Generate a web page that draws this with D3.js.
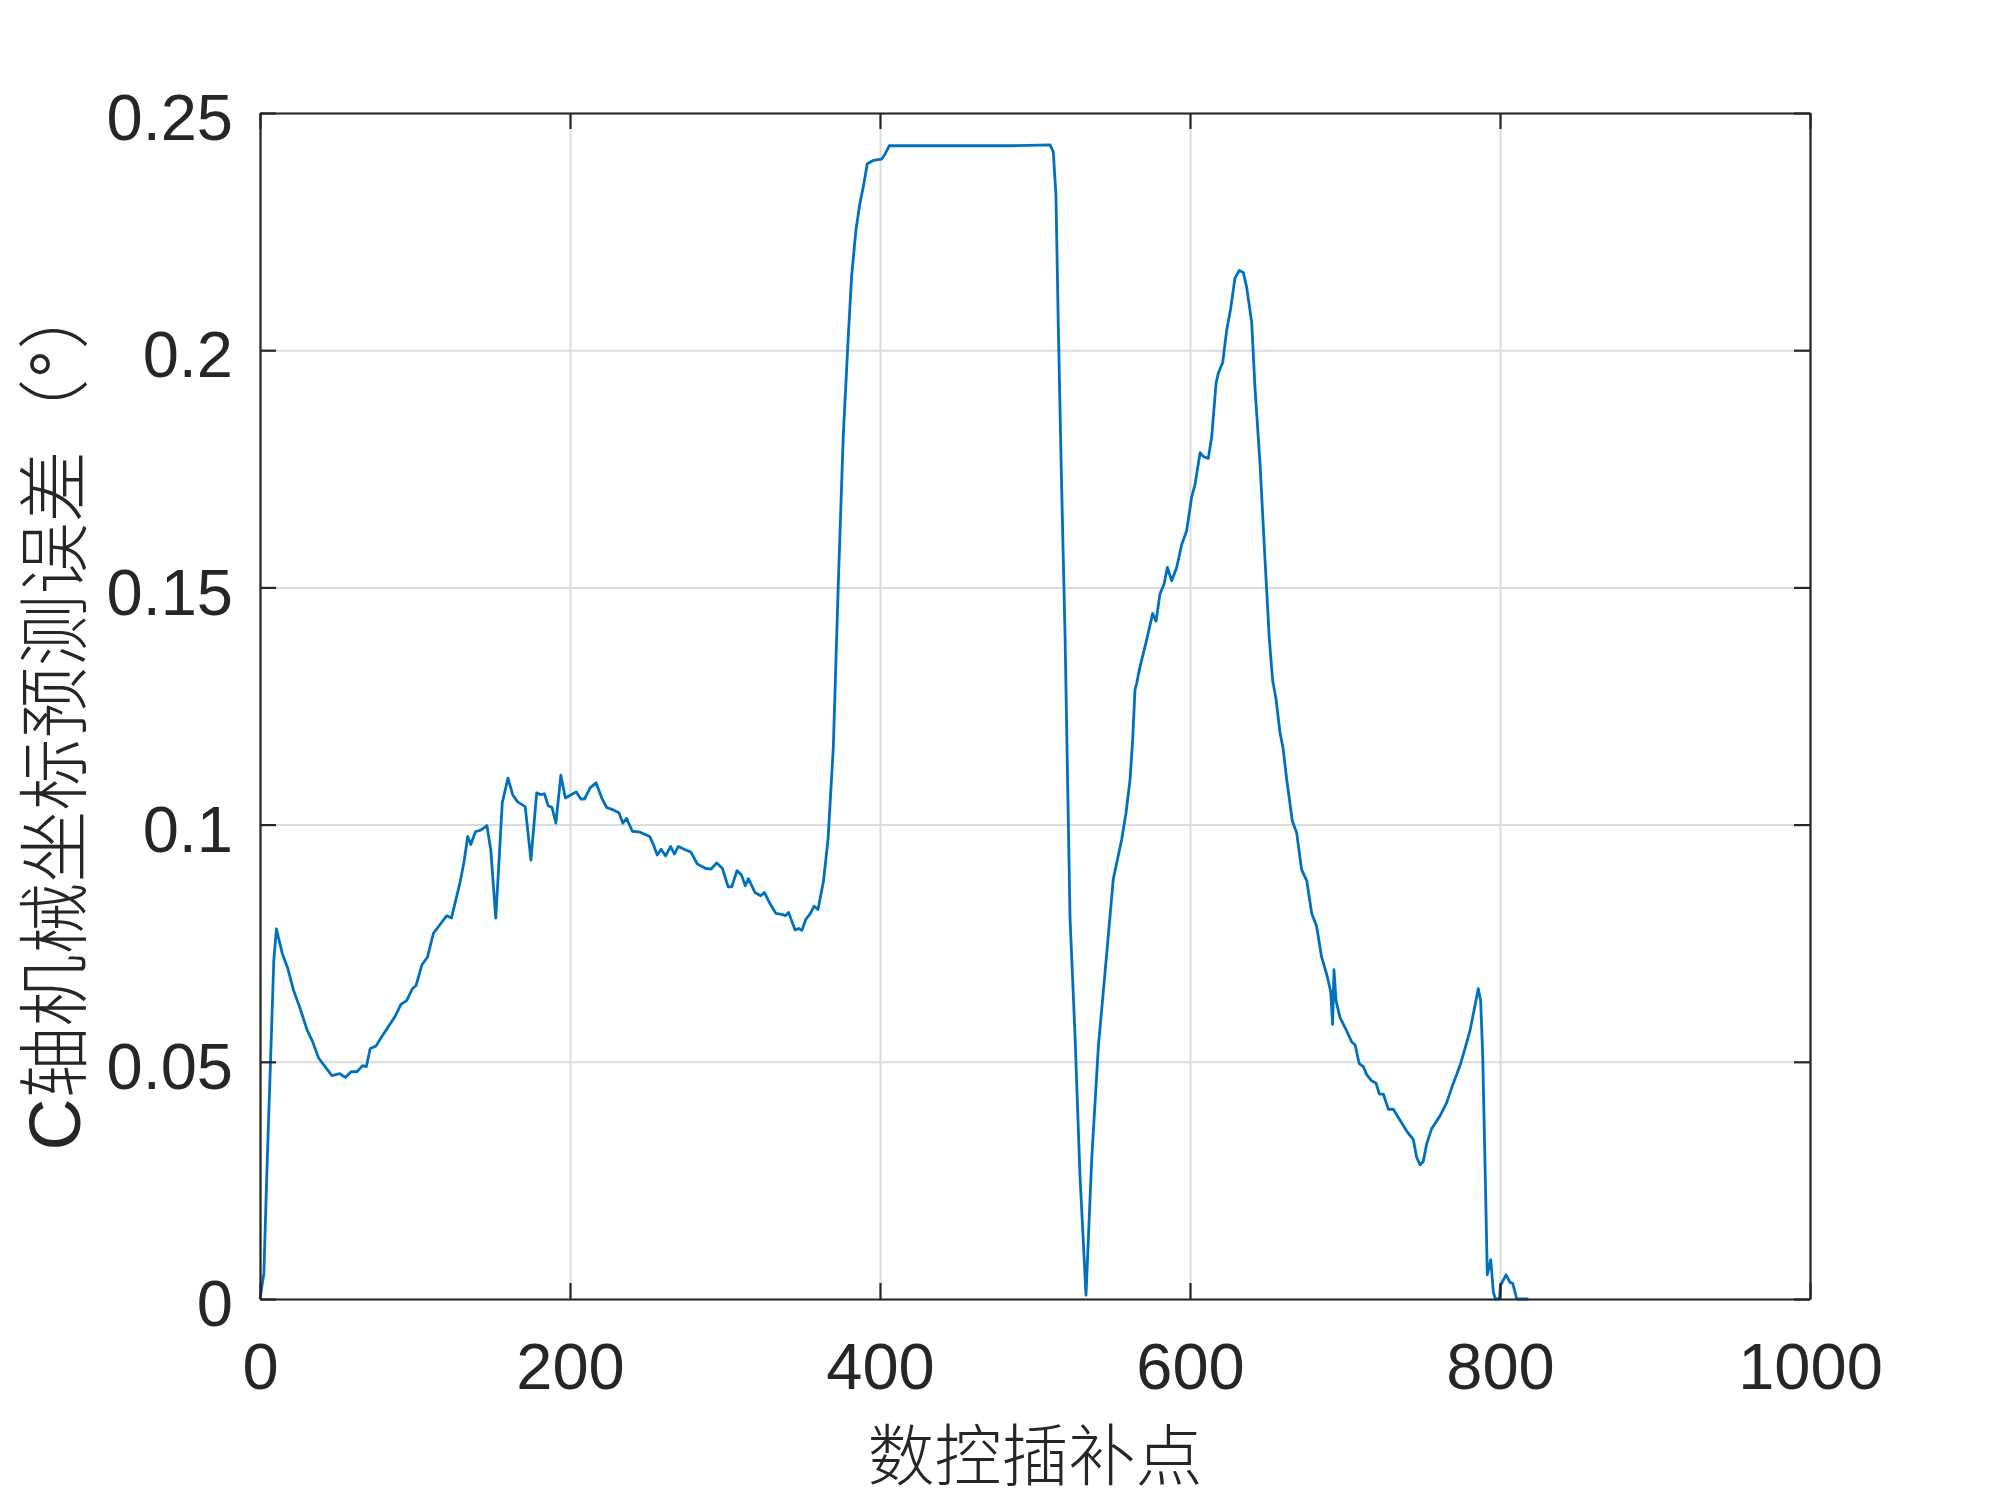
<!DOCTYPE html>
<html lang="zh">
<head>
    <meta charset="UTF-8">
    <title>C轴机械坐标预测误差</title>
    <style>
        body { margin: 0; background: #fff; }
    </style>
</head>
<body>
    <div id="chart"></div>
    <script src="https://d3js.org/d3.v7.min.js"></script>
    <script>
        // 数控插补点 (x) and predicted error (y)
        const pointIdx = [
            0, 2.5, 4.4, 6.9, 8.9, 10.6, 14.3, 18, 21.7, 25.4, 30.4, 34, 37.8, 41.5, 46.4, 51.4, 55, 58.8, 62.5, 66.2,
            68.6, 71.1, 74.8, 78.5, 82.2, 87.2, 90.9, 94.6, 98.3, 100.7, 104.4, 108.1, 111.9, 116.8, 120.5, 123.5, 126.7, 129.1, 131.6, 134,
            136, 139, 142.7, 146.4, 148.9, 152.1, 154.6, 156.3, 160, 163, 166.2, 171.1, 174.8, 178.5, 181, 183.5, 185.9, 188.4, 190.9, 194.1,
            197, 200.7, 204, 207, 209.4, 213.1, 216.8, 220.5, 223.7, 227.9, 231.6, 234.1, 236.5, 240.2, 245.2, 251.4, 253.8, 256.3, 258.8, 261.7,
            264.9, 267.4, 269.9, 273.6, 278, 282.2, 287.2, 290.9, 294.6, 298.3, 302, 304.4, 307.7, 310.6, 313.1, 315.1, 319.3, 323, 325.4, 329.1,
            332.8, 336.5, 339, 341, 345.2, 347.7, 349.6, 352.1, 355.1, 357.5, 360, 363.5, 366.5, 369.9, 373.1, 376.3, 379.6, 381.7, 384.5, 387.1,
            389.2, 391.8, 395.7, 401.1, 403.2, 406, 443, 486, 509.7, 511.8, 513.5, 515.1, 517.2, 519.4, 522.6, 525.8, 529, 532.9, 536.6, 540.9,
            545.2, 550.5, 555.9, 558.7, 561.3, 563, 564.5, 565.6, 567.7, 572, 575.9, 578.1, 580.6, 583.2, 585.4, 588.2, 591.4, 594.6, 597.8, 601.1,
            603.2, 606.5, 608.6, 611.8, 614, 616.8, 618.3, 621.1, 623.7, 626.2, 629, 631.8, 634.4, 636.6, 639.8, 641.9, 645.2, 648.4, 651.2, 653.3,
            655.5, 658.1, 660, 662.4, 666, 668.8, 672, 675.3, 678.5, 681.7, 684.9, 688.2, 690.8, 692, 692.9, 694.2, 696.8, 701.1, 704.3, 706.5,
            709.2, 711.8, 714, 717.2, 720, 722.2, 724.7, 728, 731.2, 735.5, 739.8, 744.1, 746.2, 748.4, 750.5, 752.7, 755.9, 761.3, 765.6, 769.9,
            774.2, 777.4, 780.6, 783.4, 786, 787.5, 788.8, 790.3, 791.8, 794, 795.7, 797, 799.6, 800.4, 803.9, 806.5, 808.2, 810.8, 818.3
        ]
        const cErr = [
            0, 0.0054, 0.0263, 0.0513, 0.0713, 0.078, 0.0729, 0.0696, 0.065, 0.0617, 0.0567, 0.0542, 0.0508, 0.0492, 0.0471, 0.0475, 0.0467, 0.0479, 0.0479, 0.0492,
            0.049, 0.0528, 0.0533, 0.0553, 0.0571, 0.0596, 0.0621, 0.0629, 0.0654, 0.0661, 0.0704, 0.0721, 0.0771, 0.0792, 0.0808, 0.0803, 0.0846, 0.0879, 0.0921, 0.0975,
            0.0958, 0.0985, 0.0989, 0.0998, 0.0946, 0.0803, 0.0946, 0.1046, 0.1098, 0.1063, 0.1048, 0.1038, 0.0925, 0.1067, 0.1063, 0.1065, 0.104, 0.1036, 0.1003, 0.1104,
            0.1056, 0.1063, 0.1069, 0.1054, 0.1054, 0.1078, 0.1088, 0.1056, 0.1036, 0.1031, 0.1025, 0.1003, 0.1013, 0.0986, 0.0984, 0.0975, 0.0958, 0.0936, 0.0948, 0.0934,
            0.0954, 0.0938, 0.0954, 0.0948, 0.0942, 0.0917, 0.0908, 0.0906, 0.0919, 0.0908, 0.0869, 0.0869, 0.0903, 0.0894, 0.0871, 0.0886, 0.0857, 0.085, 0.0857, 0.0833,
            0.0813, 0.0811, 0.0808, 0.0815, 0.0778, 0.0781, 0.0777, 0.08, 0.0813, 0.0828, 0.0821, 0.088, 0.097, 0.1164, 0.1508, 0.182, 0.2033, 0.2156, 0.2254, 0.2311,
            0.2344, 0.2393, 0.24, 0.2403, 0.2413, 0.2431, 0.2431, 0.2431, 0.2433, 0.2418, 0.2328, 0.204, 0.171, 0.1397, 0.0803, 0.0557, 0.0262, 0.0008, 0.0295, 0.0533,
            0.0689, 0.0885, 0.0968, 0.1024, 0.1094, 0.1178, 0.1284, 0.1298, 0.1332, 0.1389, 0.1445, 0.1429, 0.1486, 0.1506, 0.1542, 0.1514, 0.1542, 0.159, 0.1619, 0.1691,
            0.1716, 0.1784, 0.1776, 0.1772, 0.1817, 0.193, 0.1952, 0.1974, 0.2043, 0.2087, 0.2152, 0.2168, 0.2164, 0.2132, 0.2059, 0.1922, 0.176, 0.1558, 0.139, 0.1305,
            0.1265, 0.1193, 0.1162, 0.1095, 0.1008, 0.0983, 0.0905, 0.0882, 0.0813, 0.0785, 0.0721, 0.0684, 0.0648, 0.0579, 0.0694, 0.0629, 0.0593, 0.0565, 0.0542, 0.0536,
            0.0496, 0.049, 0.0473, 0.046, 0.0455, 0.0432, 0.0432, 0.04, 0.04, 0.0377, 0.0354, 0.0336, 0.0299, 0.0283, 0.029, 0.0327, 0.0359, 0.0386, 0.0414, 0.0455,
            0.0492, 0.0528, 0.0565, 0.0611, 0.0654, 0.0629, 0.0519, 0.029, 0.0051, 0.0083, 0.0015, 0, 0, 0.0029, 0.0051, 0.0035, 0.0033, 0, 0
        ]
        const xTicks = [0, 200, 400, 600, 800, 1000]
        const yTicks = [0, 0.05, 0.1, 0.15, 0.2, 0.25]
        const yTickLabels = ['0', '0.05', '0.1', '0.15', '0.2', '0.25']
        const xTitle = '数控插补点'
        const yTitle = 'C轴机械坐标预测误差（°）'

        const [width, height] = [2000, 1500]
        const margin = {left: 260, right: 190, top: 113, bottom: 201}
        const innerW = width - margin.left - margin.right
        const innerH = height - margin.top - margin.bottom
        const axisColor = '#262626'

        const svg = d3.select('#chart').append('svg')
            .attr('width', width)
            .attr('height', height)
            .style('background', '#fff')

        const x = d3.scaleLinear().domain([0, 1000]).range([margin.left, margin.left + innerW])
        const y = d3.scaleLinear().domain([0, 0.25]).range([margin.top + innerH, margin.top])

        // grid
        svg.append('g')
            .attr('transform', `translate(0,${margin.top + innerH})`)
            .call(d3.axisBottom(x).tickValues(xTicks).tickSize(-innerH).tickFormat(''))
            .call(g => g.select('.domain').remove())
            .selectAll('line').attr('stroke', '#dcdcdc').attr('stroke-width', 2)
        svg.append('g')
            .attr('transform', `translate(${margin.left},0)`)
            .call(d3.axisLeft(y).tickValues(yTicks).tickSize(-innerW).tickFormat(''))
            .call(g => g.select('.domain').remove())
            .selectAll('line').attr('stroke', '#dcdcdc').attr('stroke-width', 2)

        // data line
        const pts = pointIdx.map((d, i) => [d, cErr[i]])
        svg.append('path')
            .datum(pts)
            .attr('fill', 'none')
            .attr('stroke', '#0072BD')
            .attr('stroke-width', 2.8)
            .attr('stroke-linejoin', 'round')
            .attr('d', d3.line().x(d => x(d[0])).y(d => y(d[1])))

        function styleAxis(g) {
            g.select('.domain').attr('stroke', axisColor).attr('stroke-width', 2.2)
            g.selectAll('.tick line').attr('stroke', axisColor).attr('stroke-width', 2.2)
            g.selectAll('text')
                .attr('fill', axisColor)
                .style('font-family', '"Liberation Sans", Arial, sans-serif')
                .style('font-size', '65px')
        }

        svg.append('g')
            .attr('transform', `translate(0,${margin.top + innerH})`)
            .call(d3.axisBottom(x).tickValues(xTicks).tickFormat(d3.format('d'))
                .tickSizeInner(-16).tickSizeOuter(0).tickPadding(44))
            .call(styleAxis)

        svg.append('g')
            .attr('transform', `translate(${margin.left},0)`)
            .call(d3.axisLeft(y).tickValues(yTicks).tickFormat((d, i) => yTickLabels[i])
                .tickSizeInner(-16).tickSizeOuter(0).tickPadding(27))
            .call(styleAxis)
            .call(g => g.selectAll('text').attr('dy', '0.41em'))

        svg.append('g')
            .attr('transform', `translate(0,${margin.top})`)
            .call(d3.axisTop(x).tickValues(xTicks).tickSizeInner(-16).tickSizeOuter(0).tickFormat(''))
            .call(styleAxis)

        svg.append('g')
            .attr('transform', `translate(${margin.left + innerW},0)`)
            .call(d3.axisRight(y).tickValues(yTicks).tickSizeInner(-16).tickSizeOuter(0).tickFormat(''))
            .call(styleAxis)

        // axis titles
        svg.append('text')
            .attr('x', margin.left + innerW / 2)
            .attr('y', 1480)
            .attr('text-anchor', 'middle')
            .attr('fill', axisColor)
            .style('font-family', '"Noto Sans CJK SC", sans-serif')
            .style('font-weight', 300)
            .style('font-size', '67px')
            .text(xTitle)

        svg.append('text')
            .attr('transform', `translate(80,714) rotate(-90)`)
            .attr('text-anchor', 'middle')
            .attr('fill', axisColor)
            .style('font-family', '"Liberation Sans", "Noto Sans CJK SC", sans-serif')
            .style('font-weight', 300)
            .style('font-size', '72px')
            .text(yTitle)
    </script>
</body>
</html>
